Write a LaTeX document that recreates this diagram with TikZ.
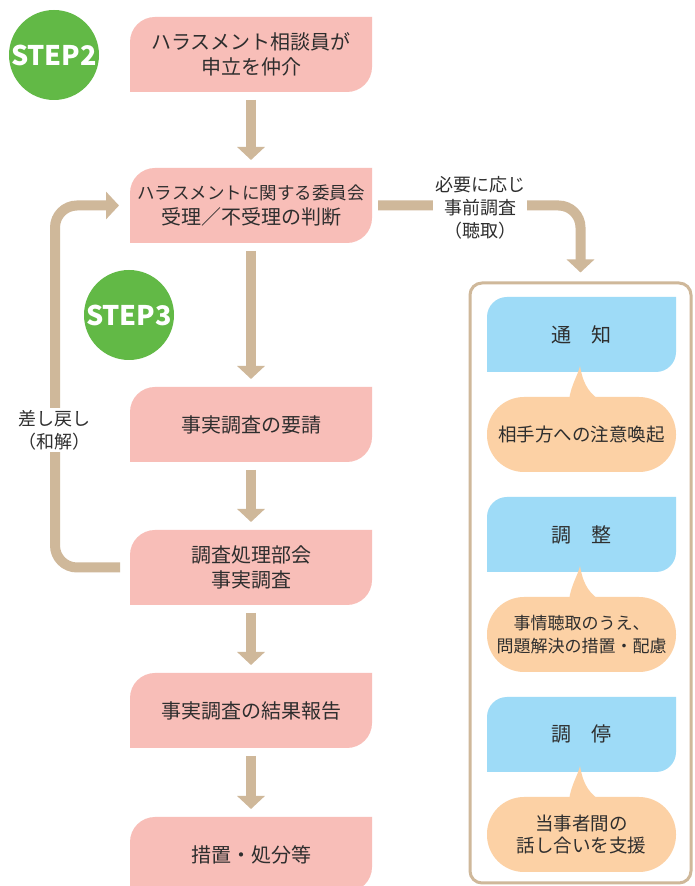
\documentclass[tikz,border=0pt]{standalone}
\usepackage{fontspec}
\setmainfont{Noto Sans CJK JP}
\usetikzlibrary{arrows.meta,backgrounds,calc}
\definecolor{pinkc}{HTML}{F8BEB8}
\definecolor{tanc}{HTML}{CFB89A}
\definecolor{bluec}{HTML}{9EDBF7}
\definecolor{orangec}{HTML}{FCD1A5}
\definecolor{greenc}{HTML}{62B946}
\definecolor{txtc}{HTML}{2E2E2E}
\newcommand\leafshape[3]{\fill[#3] ([yshift=-#2]#1.north west) arc[start angle=180,end angle=90,radius=#2] -- (#1.north east) -- ([yshift=#2]#1.south east) arc[start angle=0,end angle=-90,radius=#2] -- (#1.south west) -- cycle;}
\newcommand\bubbletail[1]{\fill[orangec] ($(#1.north)+(-12.5,-3)$) .. controls ($(#1.north)+(-10.5,12)$) and ($(#1.north)+(-3.5,22)$) .. ($(#1.north)+(-1.5,31)$) .. controls ($(#1.north)+(0.5,19)$) and ($(#1.north)+(4.5,5)$) .. ($(#1.north)+(18.5,-3)$) -- cycle;}
\begin{document}
\begin{tikzpicture}[x=1pt,y=1pt,
  pinkbox/.style={rectangle, minimum width=242pt, minimum height=75pt, inner sep=0pt, outer sep=0pt, align=center, text=txtc, font=\fontsize{20}{25}\selectfont},
  bluebox/.style={rectangle, minimum width=189pt, minimum height=75pt, inner sep=0pt, outer sep=0pt, align=center, text=txtc, font=\fontsize{20}{25}\selectfont},
  bubble/.style={rectangle, fill=orangec, rounded corners=37pt, minimum width=189pt, minimum height=75pt, inner sep=0pt, outer sep=0pt, align=center, text=txtc, font=\fontsize{18.5}{22.5}\selectfont},
  stepc/.style={circle, fill=greenc, minimum size=90pt, inner sep=0pt, text=white, font=\fontsize{27}{27}\selectfont\bfseries},
  bigarrow/.style={draw=tanc, line width=10pt, -{Triangle[width=27pt,length=13pt]}, shorten <=8pt, shorten >=8pt},
  lbl/.style={fill=white, align=center, text=txtc, inner sep=2pt, font=\fontsize{18}{23}\selectfont}]
\useasboundingbox (0,0) rectangle (694,886);
% left column
\node[pinkbox] (b1) at (251,831.5) {ハラスメント相談員が\\申立を仲介};
\node[pinkbox] (b2) at (251,680.5) {{\fontsize{17.5}{25}\selectfont ハラスメントに関する委員会}\\受理／不受理の判断};
\node[pinkbox] (b3) at (251,461.5) {事実調査の要請};
\node[pinkbox] (b4) at (251,318.5) {調査処理部会\\事実調査};
\node[pinkbox] (b5) at (251,175.5) {事実調査の結果報告};
\node[pinkbox] (b6) at (251,31.5) {措置・処分等};
% right column
\node[draw=tanc, line width=3pt, rounded corners=12pt, minimum width=221pt, minimum height=600pt, inner sep=0pt] (cont) at (580.5,303) {};
\node[bluebox] (u1) at (581.5,551.5) {通　知};
\node[bluebox] (u2) at (581.5,351.5) {調　整};
\node[bluebox] (u3) at (581.5,151.5) {調　停};
\node[bubble] (o1) at (581.5,451.5) {相手方への注意喚起};
\node[bubble, font=\fontsize{17}{22.5}\selectfont] (o2) at (581.5,251.5) {事情聴取のうえ、\\問題解決の措置・配慮};
\node[bubble] (o3) at (581.5,51.5) {当事者間の\\話し合いを支援};
\bubbletail{o1}
\bubbletail{o2}
\bubbletail{o3}
\begin{pgfonlayer}{background}
\fill[white] (0,0) rectangle (694,886);
\leafshape{b1}{25pt}{pinkc}
\leafshape{b2}{25pt}{pinkc}
\leafshape{b3}{25pt}{pinkc}
\leafshape{b4}{25pt}{pinkc}
\leafshape{b5}{25pt}{pinkc}
\leafshape{b6}{25pt}{pinkc}
\leafshape{u1}{20pt}{bluec}
\leafshape{u2}{20pt}{bluec}
\leafshape{u3}{20pt}{bluec}
\end{pgfonlayer}
% steps
\node[stepc] (s2) at (54,831) {STEP2};
\node[stepc] (s3) at (129,571) {STEP3};
% arrows
\draw[bigarrow] (b1) -- (b2);
\draw[bigarrow] (b2) -- (b3);
\draw[bigarrow] (b3) -- (b4);
\draw[bigarrow] (b4) -- (b5);
\draw[bigarrow] (b5) -- (b6);
\coordinate (loopc) at ($(b2.west)+(-75,0)$);
\draw[bigarrow, rounded corners=22pt, shorten <=10pt, shorten >=11pt] (b4.west) -| (loopc) -- (b2.west);
\draw[bigarrow, rounded corners=22pt, shorten <=6pt, shorten >=9pt] (b2.east) -| (cont.north);
% labels
\node[lbl] (l1) at (480,678) {必要に応じ\\事前調査\\（聴取）};
\node[lbl] (l2) at (54,456) {差し戻し\\（和解）};
\end{tikzpicture}
\end{document}
